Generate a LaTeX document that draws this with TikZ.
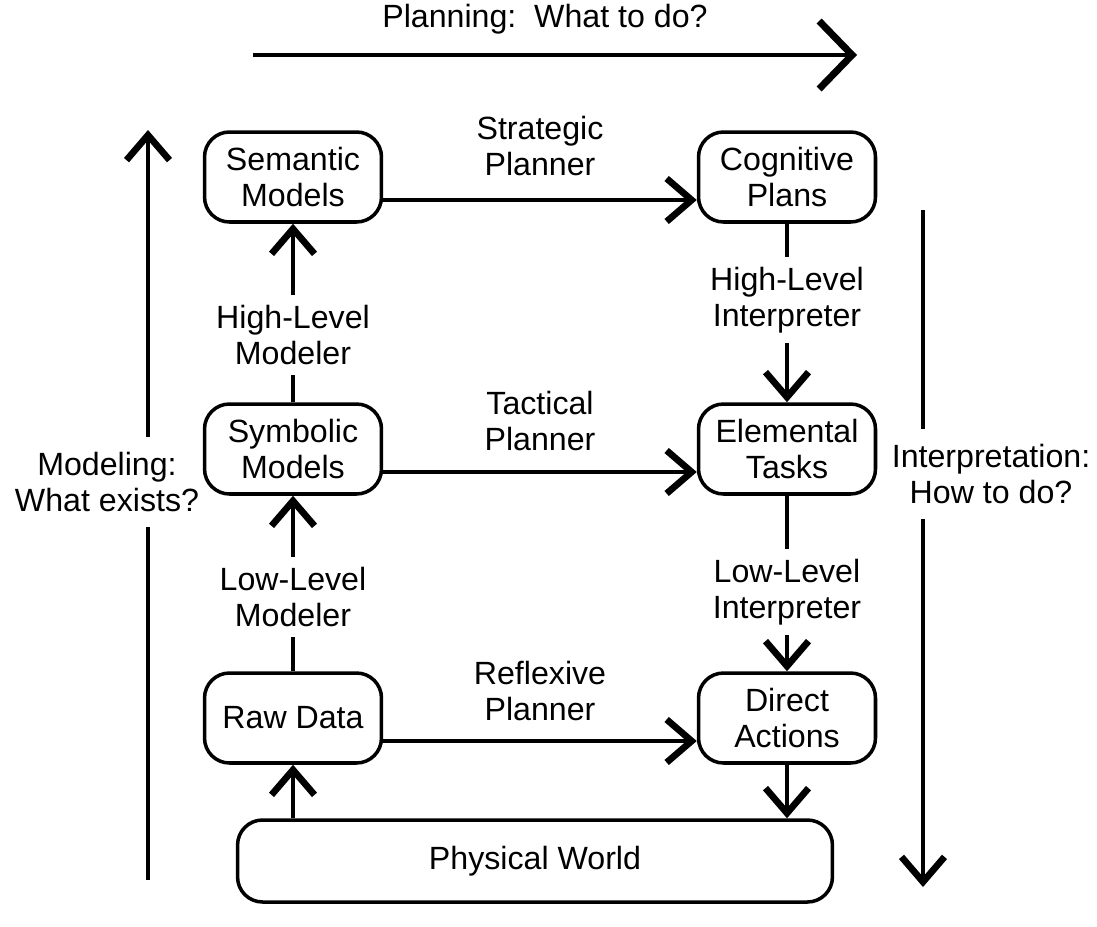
\documentclass[tikz,border=0pt]{standalone}
\usepackage{fontspec}
\setmainfont{Liberation Sans}
\usetikzlibrary{arrows.meta}

\begin{document}
\begin{tikzpicture}[x=0.02cm, y=-0.02cm,
    font=\fontsize{18.3}{20.5}\selectfont,
    box/.style={draw, rounded corners=0.5cm, align=center, line width=2pt,
      minimum width=3.54cm, minimum height=1.8cm, inner sep=0pt},
    lbl/.style={align=center, inner sep=0.2cm},
    side/.style={align=center, inner sep=0.3cm},
    conn/.style={line width=2.5pt},
    >={Straight Barb[length=0.5cm, width=0.86cm, line width=3.8pt]}]
  \useasboundingbox (0,0) rectangle (1097,926);

  % levels
  \node[box] (sem) at (293,177) {Semantic\\Models};
  \node[box] (cog) at (787,177) {Cognitive\\Plans};
  \node[box] (sym) at (293,449) {Symbolic\\Models};
  \node[box] (elem) at (787,449) {Elemental\\Tasks};
  \node[box] (raw) at (293,718) {Raw Data};
  \node[box] (dir) at (787,718) {Direct\\Actions};
  \node[box, minimum width=11.9cm, minimum height=1.64cm] (phy) at (535,861) {Physical World};

  % planners
  \node[lbl] (sp) at (540,146) {Strategic\\Planner};
  \node[lbl] (tp) at (540,421) {Tactical\\Planner};
  \node[lbl] (rp) at (540,691) {Reflexive\\Planner};
  \draw[conn,->] ([yshift=-0.46cm]sem.east) -- ([yshift=-0.46cm]cog.west);
  \draw[conn,->] ([yshift=-0.46cm]sym.east) -- ([yshift=-0.46cm]elem.west);
  \draw[conn,->] ([yshift=-0.46cm]raw.east) -- ([yshift=-0.46cm]dir.west);

  % modelers
  \node[lbl] (hlm) at (293,335) {High-Level\\Modeler};
  \node[lbl] (llm) at (293,597) {Low-Level\\Modeler};
  \draw[conn] (sym) -- (hlm);
  \draw[conn,->] (hlm) -- (sem);
  \draw[conn] (raw) -- (llm);
  \draw[conn,->] (llm) -- (sym);
  \draw[conn,->] (raw |- phy.north) -- (raw);

  % interpreters
  \node[lbl] (hli) at (787,300) {High-Level\\Interpreter};
  \node[lbl] (lli) at (787,592) {Low-Level\\Interpreter};
  \draw[conn] (cog) -- (hli);
  \draw[conn,->] (hli) -- (elem);
  \draw[conn] (elem) -- (lli);
  \draw[conn,->] (lli) -- (dir);
  \draw[conn,->] (dir) -- (dir |- phy.north);

  % side arrows
  \node[anchor=base] (plan) at (545,28) {Planning:\ \ What to do?};
  \coordinate (pl) at (253,55);
  \coordinate (pr) at (857,55);
  \draw[line width=2.8pt,-{Straight Barb[length=0.66cm, width=1.36cm, line width=4pt]}] (pl) -- (pr);

  \node[side] (mod) at (107,482) {Modeling:\\What exists?};
  \coordinate (lt) at (148,130);
  \coordinate (lb) at (148,880);
  \draw[conn] (lb) -- (lb |- mod.south);
  \draw[conn,->] (lb |- mod.north) -- (lt);

  \node[side] (int) at (991,474) {Interpretation:\\How to do?};
  \coordinate (rt) at (923,210);
  \coordinate (rb) at (923,887);
  \draw[conn] (rt) -- (rt |- int.north);
  \draw[conn,->] (rt |- int.south) -- (rb);
\end{tikzpicture}
\end{document}
